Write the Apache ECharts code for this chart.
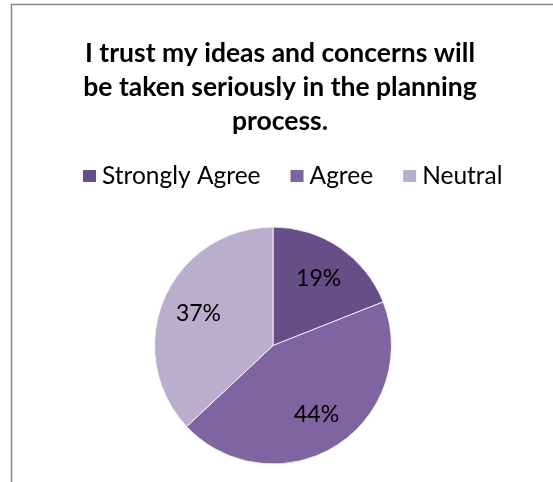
<!DOCTYPE html>
<html>
<head>
<meta charset="utf-8">
<script src="https://cdn.jsdelivr.net/npm/echarts@6/dist/echarts.min.js"></script>
<style>
  html, body { margin: 0; padding: 0; background: #ffffff; }
  #chart { width: 553px; height: 482px; }
</style>
</head>
<body>
<div id="chart"></div>
<script>
// Survey responses
const titleText = 'I trust my ideas and concerns will\nbe taken seriously in the planning\nprocess.';
const categories = ['Strongly Agree', 'Agree', 'Neutral'];
const values = [19, 44, 37];
const colors = ['#664f87', '#8064a2', '#b9afcc'];

const FONT = 'Lato, "Open Sans", sans-serif';

const pieData = categories.map((name, i) => ({
  name: name,
  value: values[i],
  itemStyle: { color: colors[i] }
}));

const chart = echarts.init(document.getElementById('chart'), null, { renderer: 'canvas' });

chart.setOption({
  backgroundColor: '#ffffff',
  animation: false,
  color: colors,
  title: {
    text: titleText,
    left: 280,
    top: 36,
    textAlign: 'center',
    padding: 0,
    textStyle: {
      fontFamily: FONT,
      fontWeight: 'bold',
      fontSize: 26.5,
      lineHeight: 34,
      color: '#000000'
    }
  },
  legend: {
    data: categories,
    top: 158.5,
    left: 76,
    itemWidth: 15,
    itemHeight: 14,
    itemGap: 28,
    icon: 'rect',
    selectedMode: false,
    textStyle: {
      fontFamily: FONT,
      fontSize: 24.5,
      color: '#000000'
    }
  },
  graphic: [{
    type: 'rect',
    shape: { x: 11.5, y: 4.5, width: 700, height: 700 },
    style: { fill: 'none', stroke: '#888888', lineWidth: 1.5 },
    silent: true
  }],
  series: [
    {
      // filled slices
      type: 'pie',
      center: [273, 345.5],
      radius: [0, 118.5],
      startAngle: 90,
      clockwise: true,
      silent: true,
      label: { show: false },
      labelLine: { show: false },
      itemStyle: { borderColor: '#ffffff', borderWidth: 0.8 },
      data: pieData
    },
    {
      // percentage labels placed further out than the pie's default inside radius
      type: 'pie',
      center: [273, 345.5],
      radius: [38, 118.5],
      startAngle: 90,
      clockwise: true,
      silent: true,
      itemStyle: { color: 'rgba(0,0,0,0)' },
      label: {
        show: true,
        position: 'inside',
        formatter: '{c}%',
        fontFamily: FONT,
        fontSize: 23,
        color: '#000000'
      },
      labelLine: { show: false },
      data: categories.map((name, i) => ({ name: name, value: values[i] }))
    }
  ]
});
</script>
</body>
</html>
